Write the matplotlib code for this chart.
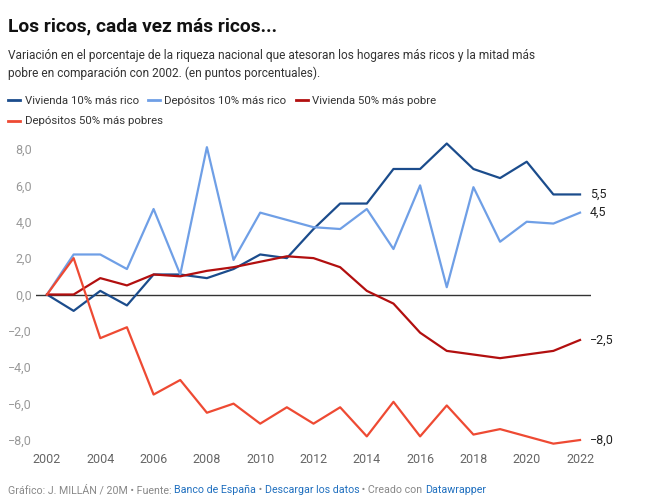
import numpy as np
import matplotlib.pyplot as plt
from matplotlib.lines import Line2D

plt.rcParams['font.family'] = ['Roboto', 'DejaVu Sans']

# datos (puntos porcentuales respecto a 2002)
anios = list(range(2002, 2023))
viv_rico = [0, -0.9, 0.2, -0.6, 1.1, 1.1, 0.9, 1.4, 2.2, 2.0, 3.6,
            5.0, 5.0, 6.9, 6.9, 8.3, 6.9, 6.4, 7.3, 5.5, 5.5]
dep_rico = [0, 2.2, 2.2, 1.4, 4.7, 1.1, 8.1, 1.9, 4.5, 4.1, 3.7,
            3.6, 4.7, 2.5, 6.0, 0.4, 5.9, 2.9, 4.0, 3.9, 4.5]
viv_pobre = [0, 0, 0.9, 0.5, 1.1, 1.0, 1.3, 1.5, 1.8, 2.1, 2.0,
             1.5, 0.2, -0.5, -2.1, -3.1, -3.3, -3.5, -3.3, -3.1, -2.5]
dep_pobre = [0, 2.0, -2.4, -1.8, -5.5, -4.7, -6.5, -6.0, -7.1, -6.2, -7.1,
             -6.2, -7.8, -5.9, -7.8, -6.1, -7.7, -7.4, -7.8, -8.2, -8.0]

nombres = ['Vivienda 10% más rico', 'Depósitos 10% más rico',
           'Vivienda 50% más pobre', 'Depósitos 50% más pobres']
colores = ['#1b4c8c', '#6f9fe6', '#b20f0f', '#ee4a33']
series = [viv_rico, dep_rico, viv_pobre, dep_pobre]
etiquetas_fin = ['5,5', '4,5', '−2,5', '−8,0']

fig = plt.figure(figsize=(6.45, 5), dpi=100)
ax = fig.add_axes([0.0563, 0.1054, 0.8595, 0.6112])

ax.axhline(0, color='#333333', lw=1, zorder=1)
for s, c, lab in zip(series, colores, etiquetas_fin):
    ax.plot(anios, s, color=c, lw=1.6, zorder=2)
    ax.annotate(lab, (anios[-1], s[-1]), xytext=(7, 0), textcoords='offset points',
                va='center', ha='left', fontsize=9, color='#222222')

ax.set_xlim(2001.6, 2022.4)
ax.set_ylim(-8.4, 8.4)
ax.set_xticks(range(2002, 2023, 2))
yt = np.arange(-8, 9, 2)
ax.set_yticks(yt)
ax.set_yticklabels([f'{v:.1f}'.replace('.', ',').replace('-', '−') for v in yt])
for sp in ax.spines.values():
    sp.set_visible(False)
ax.tick_params(axis='y', length=0, pad=3, labelsize=9, labelcolor='#999999')
ax.tick_params(axis='x', length=0, pad=4, labelsize=9, labelcolor='#666666')

# titulo y subtitulo
fig.text(0.012, 0.937, 'Los ricos, cada vez más ricos...', fontsize=13.8,
         fontweight='bold', color='#111111', va='baseline')
fig.text(0.012, 0.845, 'Variación en el porcentaje de la riqueza nacional que atesoran los hogares más ricos y la mitad más\n'
         'pobre en comparación con 2002. (en puntos porcentuales).', fontsize=8.6,
         color='#333333', va='baseline', linespacing=1.45)

# leyenda a mano (marcas cortas + texto, una tras otra)
rend = fig.canvas.get_renderer()
W = fig.bbox.width
filas = [(0.793, [0, 1, 2]), (0.751, [3])]
for yf, idx in filas:
    x = 0.012
    for i in idx:
        fig.add_artist(Line2D([x, x + 0.019], [yf + 0.007] * 2, color=colores[i], lw=2,
                              transform=fig.transFigure))
        t = fig.text(x + 0.026, yf, nombres[i], fontsize=8.2, color='#333333', va='baseline')
        bb = t.get_window_extent(rend)
        x = bb.x1 / W + 0.014

# pie
partes = [('Gráfico: J. MILLÁN / 20M • Fuente: ', '#888888'), ('Banco de España', '#1f6fbf'),
          (' • ', '#888888'), ('Descargar los datos', '#1f6fbf'),
          (' • Creado con ', '#888888'), ('Datawrapper', '#1f6fbf')]
prev = fig.text(0.012, 0.014, partes[0][0], fontsize=7.7, color=partes[0][1], va='baseline')
for t, c in partes[1:]:
    prev = ax.annotate(t, xy=(1, 0), xycoords=prev, fontsize=7.7, color=c, va='bottom')

fig.savefig('out.png', dpi=100)
